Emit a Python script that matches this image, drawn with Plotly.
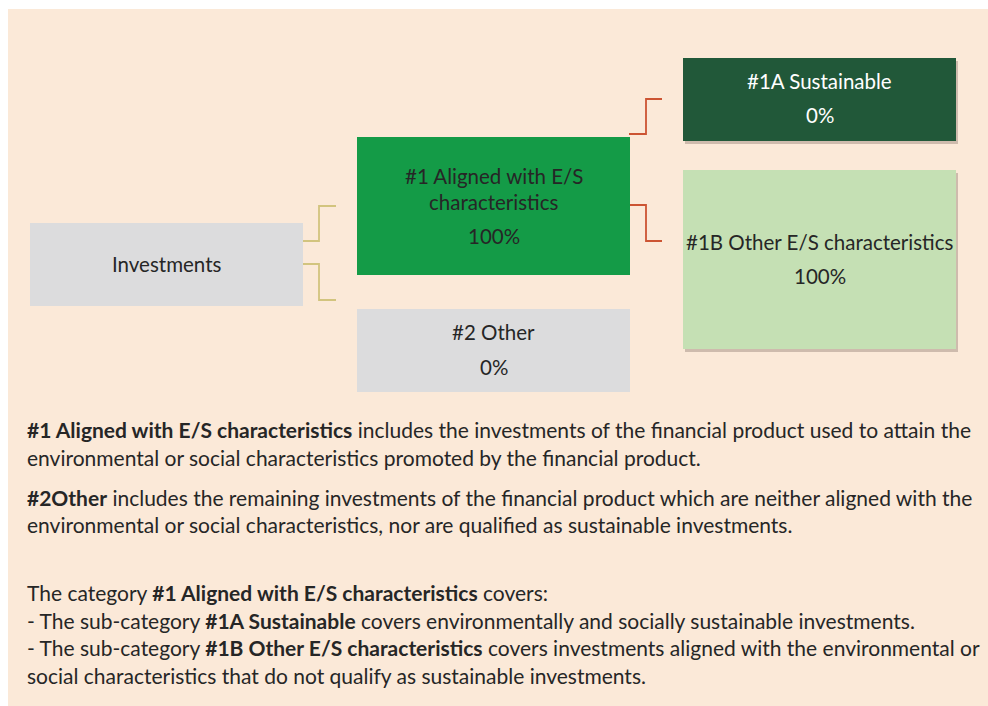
import plotly.graph_objects as go

# categories and shares shown in the boxes
categories = ['Investments', '#1 Aligned with E/S<br>characteristics', '#2 Other',
              '#1A Sustainable', '#1B Other E/S characteristics']
shares = [None, '100%', '0%', '0%', '100%']

# explanatory text lines below the diagram
notes = [
    '<b>#1 Aligned with E/S characteristics</b> includes the investments of the financial product used to attain the',
    'environmental or social characteristics promoted by the financial product.',
    '<b>#2Other</b> includes the remaining investments of the financial product which are neither aligned with the',
    'environmental or social characteristics, nor are qualified as sustainable investments.',
    'The category <b>#1 Aligned with E/S characteristics</b> covers:',
    '- The sub-category <b>#1A Sustainable</b> covers environmentally and socially sustainable investments.',
    '- The sub-category <b>#1B Other E/S characteristics</b> covers investments aligned with the environmental or',
    'social characteristics that do not qualify as sustainable investments.',
]

W, H = 988, 706
FONT = 'Lato'
TXT = '#262626'

boxes = [
    dict(x0=30, x1=303, y0=223, y1=306, fill='#dcdcdd', color=TXT, shadow=False),
    dict(x0=357, x1=630, y0=137, y1=275, fill='#149b47', color=TXT, shadow=False),
    dict(x0=357, x1=630, y0=309, y1=392, fill='#dcdcdd', color=TXT, shadow=False),
    dict(x0=683, x1=956, y0=58, y1=141, fill='#215839', color='#ffffff', shadow=True),
    dict(x0=683, x1=956, y0=170, y1=349, fill='#c5e0b4', color=TXT, shadow=True),
]
label_y = [264, 189, 332, 81, 242]
share_y = [None, 236, 367, 115, 276]

fig = go.Figure()
fig.add_trace(go.Scatter(x=[0], y=[0], mode='markers', marker=dict(opacity=0), hoverinfo='skip', showlegend=False))

shapes = [dict(type='rect', xref='x', yref='y', x0=8, x1=988, y0=9, y1=706,
               fillcolor='#fbe9d8', line=dict(width=0), layer='below')]

for b in boxes:
    if b['shadow']:
        shapes.append(dict(type='rect', xref='x', yref='y', x0=b['x0'] + 2, x1=b['x1'] + 2,
                           y0=b['y0'] + 3, y1=b['y1'] + 3, fillcolor='rgba(90,70,60,0.28)',
                           line=dict(width=0), layer='below'))
    shapes.append(dict(type='rect', xref='x', yref='y', x0=b['x0'], x1=b['x1'], y0=b['y0'], y1=b['y1'],
                       fillcolor=b['fill'], line=dict(width=0), layer='below'))

# bracket connectors
tan = '#d2c47e'
red = '#cc5433'
connectors = [
    ([303, 319, 319, 336], [241, 241, 206, 206], tan),
    ([303, 319, 319, 336], [264, 264, 300, 300], tan),
    ([629, 646, 646, 662], [134, 134, 99, 99], red),
    ([630, 646, 646, 662], [205, 205, 241, 241], red),
]
for xs, ys, c in connectors:
    path = 'M ' + ' L '.join(f'{x},{y}' for x, y in zip(xs, ys))
    shapes.append(dict(type='path', xref='x', yref='y', path=path, line=dict(color=c, width=1.8)))

annotations = []
for i, b in enumerate(boxes):
    cx = (b['x0'] + b['x1']) / 2
    if i == 1:
        annotations.append(dict(x=cx, y=176, text='#1 Aligned with E/S', showarrow=False, xref='x', yref='y',
                                font=dict(family=FONT, size=20.5, color=b['color'])))
        annotations.append(dict(x=cx, y=202, text='characteristics', showarrow=False, xref='x', yref='y',
                                font=dict(family=FONT, size=20.5, color=b['color'])))
    else:
        annotations.append(dict(x=cx, y=label_y[i], text=categories[i], showarrow=False, xref='x', yref='y',
                                font=dict(family=FONT, size=20.5, color=b['color'])))
    if shares[i]:
        annotations.append(dict(x=cx, y=share_y[i], text=shares[i], showarrow=False, xref='x', yref='y',
                                font=dict(family=FONT, size=20.5, color=b['color'])))

note_y = [429, 457, 497, 524, 592, 620, 647, 675]
for t, y in zip(notes, note_y):
    annotations.append(dict(x=25, y=y, text=t, showarrow=False, xref='x', yref='y', xanchor='left',
                            font=dict(family=FONT, size=21, color=TXT)))

fig.update_layout(
    width=W, height=H,
    margin=dict(l=0, r=0, t=0, b=0),
    paper_bgcolor='#ffffff', plot_bgcolor='#ffffff',
    xaxis=dict(range=[0, W], visible=False, fixedrange=True),
    yaxis=dict(range=[H, 0], visible=False, fixedrange=True),
    shapes=shapes, annotations=annotations, showlegend=False,
)

fig.write_html('out.html', config={'displayModeBar': False},
               post_script="document.body.style.margin='0';document.body.style.overflow='hidden';")
